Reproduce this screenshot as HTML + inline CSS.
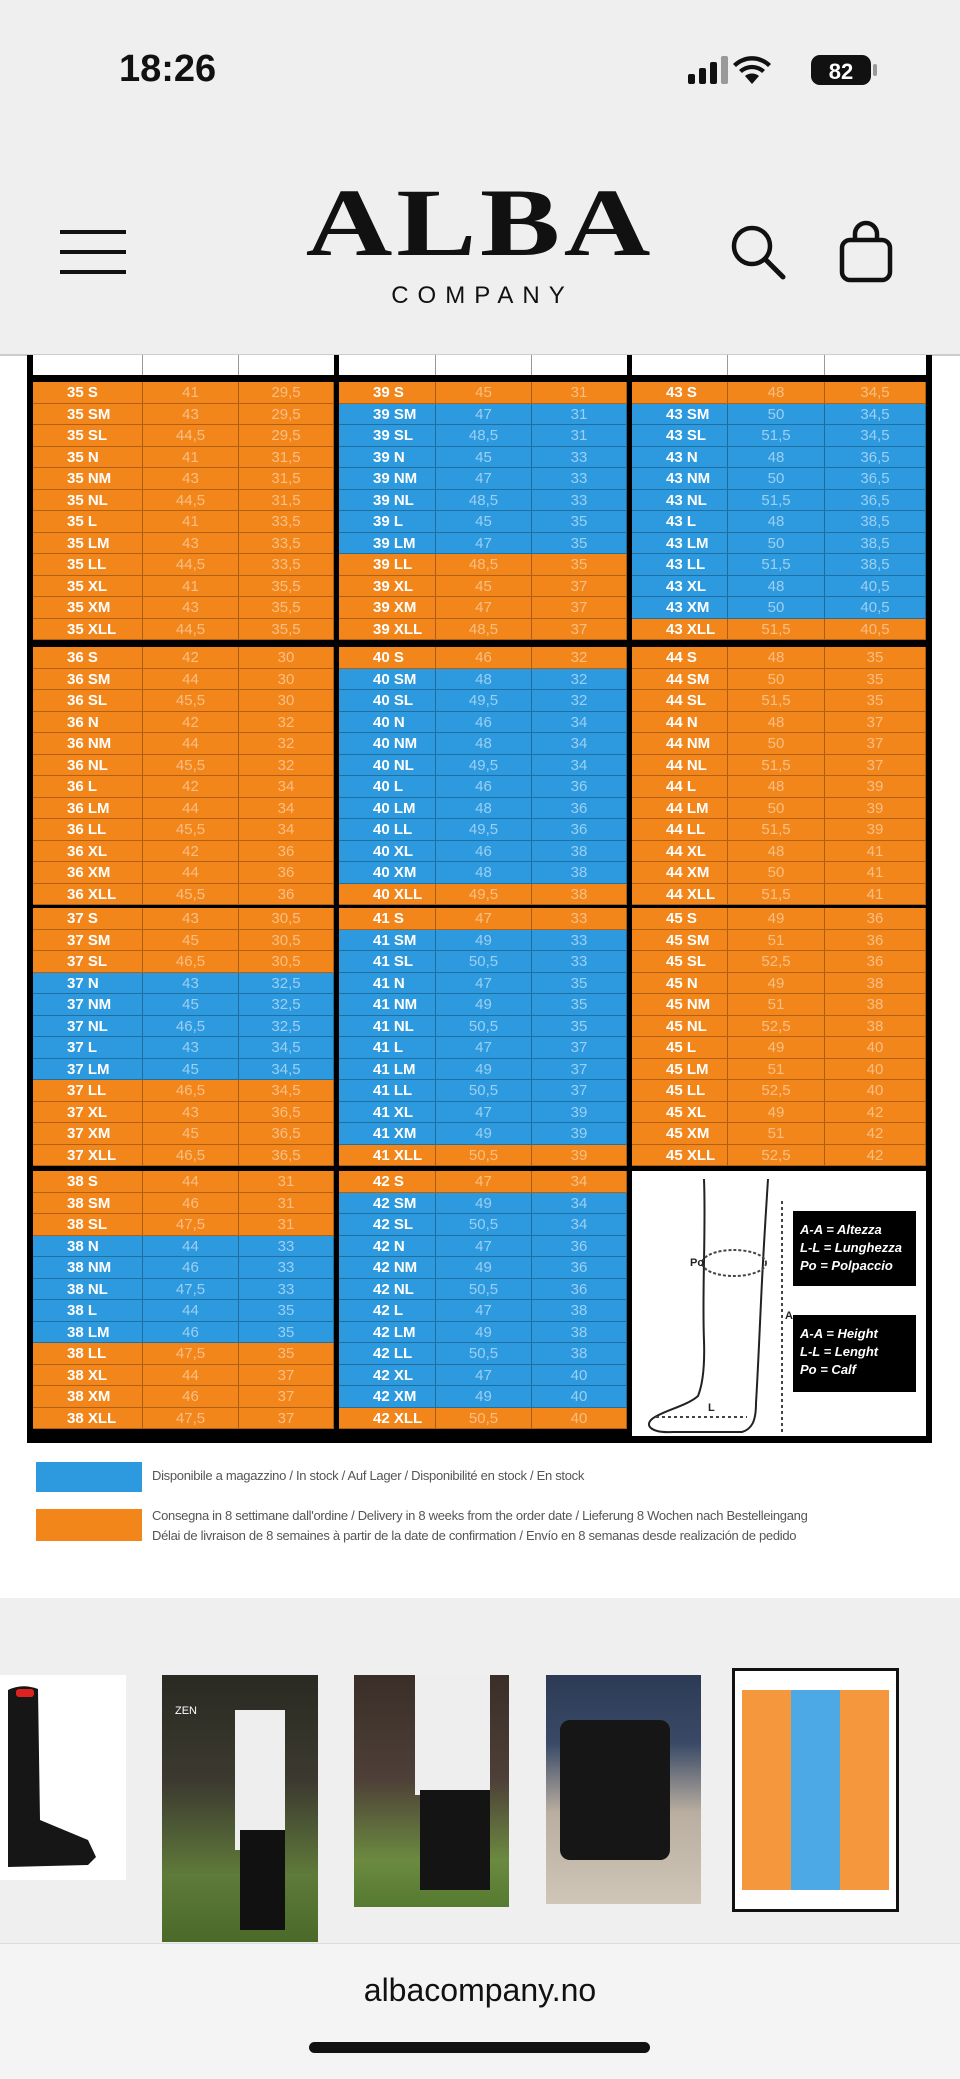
<!DOCTYPE html>
<html><head><meta charset="utf-8"><style>
*{margin:0;padding:0;box-sizing:border-box}
body{width:960px;height:2079px;background:#efefef;position:relative;overflow:hidden;font-family:"Liberation Sans",sans-serif}
.abs{position:absolute}
.tbl{position:absolute;background:#000}
.blk{position:absolute;display:flex;flex-direction:column}
.r{display:flex;height:21.5px;border-bottom:1px solid rgba(0,0,0,.28)}
.r div{border-right:1px solid rgba(0,0,0,.3);font-family:"Liberation Sans Narrow","Liberation Sans",sans-serif;font-size:15px;line-height:21px;text-align:center}
.r div:first-child{text-align:left;padding-left:34px;color:#fff;font-weight:bold}
.o{background:#f3861b}.o div{color:#f8bf84}
.b{background:#2d9ae0}.b div{color:#9ccff1}
.o div:first-child,.b div:first-child{color:#fff}
.lg{font-family:"Liberation Sans Narrow","Liberation Sans",sans-serif;font-size:13px;color:#555;letter-spacing:-.3px}
</style></head><body>
<!-- status bar -->
<div class="abs" style="left:119px;top:48px;font-size:38px;font-weight:bold;color:#111">18:26</div>
<svg class="abs" style="left:686px;top:54px" width="200" height="34">
<rect x="2" y="20" width="7" height="10" rx="2" fill="#111"/><rect x="13" y="14" width="7" height="16" rx="2" fill="#111"/><rect x="24" y="8" width="7" height="22" rx="2" fill="#111"/><rect x="35" y="2" width="7" height="28" rx="2" fill="#999"/>
<path d="M66 30 L59 22 A11 11 0 0 1 73 22Z M53 16 A19 19 0 0 1 79 16 L76 19 A15 15 0 0 0 56 19Z M47 10 A27 27 0 0 1 85 10 L82 13 A23 23 0 0 0 50 13Z" fill="#111"/>
<rect x="125" y="1" width="60" height="30" rx="9" fill="#111"/><rect x="187" y="10" width="4" height="12" rx="2" fill="#999"/>
<text x="155" y="25" font-size="22" font-weight="bold" fill="#fff" text-anchor="middle" font-family="Liberation Sans">82</text></svg>
<!-- header -->
<div class="abs" style="left:60px;top:230px;width:66px;height:4px;background:#111"></div>
<div class="abs" style="left:60px;top:250px;width:66px;height:4px;background:#111"></div>
<div class="abs" style="left:60px;top:270px;width:66px;height:4px;background:#111"></div>
<div class="abs" style="left:280px;top:183px;width:400px;text-align:center;font-family:'Liberation Serif',serif;font-weight:bold;font-size:96px;line-height:80px;letter-spacing:3px;color:#111;transform:scaleX(1.25)">ALBA</div>
<div class="abs" style="left:355px;top:282px;width:255px;text-align:center;font-size:24px;letter-spacing:9px;color:#111">COMPANY</div>
<svg class="abs" style="left:728px;top:220px" width="170" height="64">
<circle cx="24" cy="26" r="18" fill="none" stroke="#111" stroke-width="4.5"/><line x1="37" y1="39" x2="55" y2="57" stroke="#111" stroke-width="5" stroke-linecap="round"/>
<rect x="114" y="20" width="48" height="40" rx="8" fill="none" stroke="#111" stroke-width="4.5"/><path d="M127 22 V14 A11 11 0 0 1 149 14 V22" fill="none" stroke="#111" stroke-width="4.5"/></svg>
<!-- white area -->
<div class="abs" style="left:0;top:355px;width:960px;height:1243px;background:#fff"></div>
<div class="abs" style="left:0;top:354px;width:960px;height:2px;background:#ccc"></div>
<!-- table frame -->
<div class="tbl" style="left:27px;top:355px;width:905px;height:1088px"></div>
<div class="abs" style="left:33px;top:355px;width:893px;height:20px;display:flex">
<div style="width:110px;background:#fff;border-right:1px solid #999"></div><div style="width:96px;background:#fff;border-right:1px solid #999"></div><div style="width:95px;background:#fff"></div><div style="width:5px"></div>
<div style="width:97px;background:#fff;border-right:1px solid #999"></div><div style="width:96px;background:#fff;border-right:1px solid #999"></div><div style="width:95px;background:#fff"></div><div style="width:5px"></div>
<div style="width:96px;background:#fff;border-right:1px solid #999"></div><div style="width:97px;background:#fff;border-right:1px solid #999"></div><div style="width:101px;background:#fff"></div></div>

<!-- COLUMN 1 -->
<div class="blk" style="left:33px;top:382px;width:301px">
<div class="r o"><div style="width:110px">35 S</div><div style="width:96px">41</div><div style="width:95px">29,5</div></div>
<div class="r o"><div style="width:110px">35 SM</div><div style="width:96px">43</div><div style="width:95px">29,5</div></div>
<div class="r o"><div style="width:110px">35 SL</div><div style="width:96px">44,5</div><div style="width:95px">29,5</div></div>
<div class="r o"><div style="width:110px">35 N</div><div style="width:96px">41</div><div style="width:95px">31,5</div></div>
<div class="r o"><div style="width:110px">35 NM</div><div style="width:96px">43</div><div style="width:95px">31,5</div></div>
<div class="r o"><div style="width:110px">35 NL</div><div style="width:96px">44,5</div><div style="width:95px">31,5</div></div>
<div class="r o"><div style="width:110px">35 L</div><div style="width:96px">41</div><div style="width:95px">33,5</div></div>
<div class="r o"><div style="width:110px">35 LM</div><div style="width:96px">43</div><div style="width:95px">33,5</div></div>
<div class="r o"><div style="width:110px">35 LL</div><div style="width:96px">44,5</div><div style="width:95px">33,5</div></div>
<div class="r o"><div style="width:110px">35 XL</div><div style="width:96px">41</div><div style="width:95px">35,5</div></div>
<div class="r o"><div style="width:110px">35 XM</div><div style="width:96px">43</div><div style="width:95px">35,5</div></div>
<div class="r o"><div style="width:110px">35 XLL</div><div style="width:96px">44,5</div><div style="width:95px">35,5</div></div>
</div>
<div class="blk" style="left:33px;top:647px;width:301px">
<div class="r o"><div style="width:110px">36 S</div><div style="width:96px">42</div><div style="width:95px">30</div></div>
<div class="r o"><div style="width:110px">36 SM</div><div style="width:96px">44</div><div style="width:95px">30</div></div>
<div class="r o"><div style="width:110px">36 SL</div><div style="width:96px">45,5</div><div style="width:95px">30</div></div>
<div class="r o"><div style="width:110px">36 N</div><div style="width:96px">42</div><div style="width:95px">32</div></div>
<div class="r o"><div style="width:110px">36 NM</div><div style="width:96px">44</div><div style="width:95px">32</div></div>
<div class="r o"><div style="width:110px">36 NL</div><div style="width:96px">45,5</div><div style="width:95px">32</div></div>
<div class="r o"><div style="width:110px">36 L</div><div style="width:96px">42</div><div style="width:95px">34</div></div>
<div class="r o"><div style="width:110px">36 LM</div><div style="width:96px">44</div><div style="width:95px">34</div></div>
<div class="r o"><div style="width:110px">36 LL</div><div style="width:96px">45,5</div><div style="width:95px">34</div></div>
<div class="r o"><div style="width:110px">36 XL</div><div style="width:96px">42</div><div style="width:95px">36</div></div>
<div class="r o"><div style="width:110px">36 XM</div><div style="width:96px">44</div><div style="width:95px">36</div></div>
<div class="r o"><div style="width:110px">36 XLL</div><div style="width:96px">45,5</div><div style="width:95px">36</div></div>
</div>
<div class="blk" style="left:33px;top:908px;width:301px">
<div class="r o"><div style="width:110px">37 S</div><div style="width:96px">43</div><div style="width:95px">30,5</div></div>
<div class="r o"><div style="width:110px">37 SM</div><div style="width:96px">45</div><div style="width:95px">30,5</div></div>
<div class="r o"><div style="width:110px">37 SL</div><div style="width:96px">46,5</div><div style="width:95px">30,5</div></div>
<div class="r b"><div style="width:110px">37 N</div><div style="width:96px">43</div><div style="width:95px">32,5</div></div>
<div class="r b"><div style="width:110px">37 NM</div><div style="width:96px">45</div><div style="width:95px">32,5</div></div>
<div class="r b"><div style="width:110px">37 NL</div><div style="width:96px">46,5</div><div style="width:95px">32,5</div></div>
<div class="r b"><div style="width:110px">37 L</div><div style="width:96px">43</div><div style="width:95px">34,5</div></div>
<div class="r b"><div style="width:110px">37 LM</div><div style="width:96px">45</div><div style="width:95px">34,5</div></div>
<div class="r o"><div style="width:110px">37 LL</div><div style="width:96px">46,5</div><div style="width:95px">34,5</div></div>
<div class="r o"><div style="width:110px">37 XL</div><div style="width:96px">43</div><div style="width:95px">36,5</div></div>
<div class="r o"><div style="width:110px">37 XM</div><div style="width:96px">45</div><div style="width:95px">36,5</div></div>
<div class="r o"><div style="width:110px">37 XLL</div><div style="width:96px">46,5</div><div style="width:95px">36,5</div></div>
</div>
<div class="blk" style="left:33px;top:1171px;width:301px">
<div class="r o"><div style="width:110px">38 S</div><div style="width:96px">44</div><div style="width:95px">31</div></div>
<div class="r o"><div style="width:110px">38 SM</div><div style="width:96px">46</div><div style="width:95px">31</div></div>
<div class="r o"><div style="width:110px">38 SL</div><div style="width:96px">47,5</div><div style="width:95px">31</div></div>
<div class="r b"><div style="width:110px">38 N</div><div style="width:96px">44</div><div style="width:95px">33</div></div>
<div class="r b"><div style="width:110px">38 NM</div><div style="width:96px">46</div><div style="width:95px">33</div></div>
<div class="r b"><div style="width:110px">38 NL</div><div style="width:96px">47,5</div><div style="width:95px">33</div></div>
<div class="r b"><div style="width:110px">38 L</div><div style="width:96px">44</div><div style="width:95px">35</div></div>
<div class="r b"><div style="width:110px">38 LM</div><div style="width:96px">46</div><div style="width:95px">35</div></div>
<div class="r o"><div style="width:110px">38 LL</div><div style="width:96px">47,5</div><div style="width:95px">35</div></div>
<div class="r o"><div style="width:110px">38 XL</div><div style="width:96px">44</div><div style="width:95px">37</div></div>
<div class="r o"><div style="width:110px">38 XM</div><div style="width:96px">46</div><div style="width:95px">37</div></div>
<div class="r o"><div style="width:110px">38 XLL</div><div style="width:96px">47,5</div><div style="width:95px">37</div></div>
</div>

<!-- COLUMN 2 -->
<div class="blk" style="left:339px;top:382px;width:288px">
<div class="r o"><div style="width:97px">39 S</div><div style="width:96px">45</div><div style="width:95px">31</div></div>
<div class="r b"><div style="width:97px">39 SM</div><div style="width:96px">47</div><div style="width:95px">31</div></div>
<div class="r b"><div style="width:97px">39 SL</div><div style="width:96px">48,5</div><div style="width:95px">31</div></div>
<div class="r b"><div style="width:97px">39 N</div><div style="width:96px">45</div><div style="width:95px">33</div></div>
<div class="r b"><div style="width:97px">39 NM</div><div style="width:96px">47</div><div style="width:95px">33</div></div>
<div class="r b"><div style="width:97px">39 NL</div><div style="width:96px">48,5</div><div style="width:95px">33</div></div>
<div class="r b"><div style="width:97px">39 L</div><div style="width:96px">45</div><div style="width:95px">35</div></div>
<div class="r b"><div style="width:97px">39 LM</div><div style="width:96px">47</div><div style="width:95px">35</div></div>
<div class="r o"><div style="width:97px">39 LL</div><div style="width:96px">48,5</div><div style="width:95px">35</div></div>
<div class="r o"><div style="width:97px">39 XL</div><div style="width:96px">45</div><div style="width:95px">37</div></div>
<div class="r o"><div style="width:97px">39 XM</div><div style="width:96px">47</div><div style="width:95px">37</div></div>
<div class="r o"><div style="width:97px">39 XLL</div><div style="width:96px">48,5</div><div style="width:95px">37</div></div>
</div>
<div class="blk" style="left:339px;top:647px;width:288px">
<div class="r o"><div style="width:97px">40 S</div><div style="width:96px">46</div><div style="width:95px">32</div></div>
<div class="r b"><div style="width:97px">40 SM</div><div style="width:96px">48</div><div style="width:95px">32</div></div>
<div class="r b"><div style="width:97px">40 SL</div><div style="width:96px">49,5</div><div style="width:95px">32</div></div>
<div class="r b"><div style="width:97px">40 N</div><div style="width:96px">46</div><div style="width:95px">34</div></div>
<div class="r b"><div style="width:97px">40 NM</div><div style="width:96px">48</div><div style="width:95px">34</div></div>
<div class="r b"><div style="width:97px">40 NL</div><div style="width:96px">49,5</div><div style="width:95px">34</div></div>
<div class="r b"><div style="width:97px">40 L</div><div style="width:96px">46</div><div style="width:95px">36</div></div>
<div class="r b"><div style="width:97px">40 LM</div><div style="width:96px">48</div><div style="width:95px">36</div></div>
<div class="r b"><div style="width:97px">40 LL</div><div style="width:96px">49,5</div><div style="width:95px">36</div></div>
<div class="r b"><div style="width:97px">40 XL</div><div style="width:96px">46</div><div style="width:95px">38</div></div>
<div class="r b"><div style="width:97px">40 XM</div><div style="width:96px">48</div><div style="width:95px">38</div></div>
<div class="r o"><div style="width:97px">40 XLL</div><div style="width:96px">49,5</div><div style="width:95px">38</div></div>
</div>
<div class="blk" style="left:339px;top:908px;width:288px">
<div class="r o"><div style="width:97px">41 S</div><div style="width:96px">47</div><div style="width:95px">33</div></div>
<div class="r b"><div style="width:97px">41 SM</div><div style="width:96px">49</div><div style="width:95px">33</div></div>
<div class="r b"><div style="width:97px">41 SL</div><div style="width:96px">50,5</div><div style="width:95px">33</div></div>
<div class="r b"><div style="width:97px">41 N</div><div style="width:96px">47</div><div style="width:95px">35</div></div>
<div class="r b"><div style="width:97px">41 NM</div><div style="width:96px">49</div><div style="width:95px">35</div></div>
<div class="r b"><div style="width:97px">41 NL</div><div style="width:96px">50,5</div><div style="width:95px">35</div></div>
<div class="r b"><div style="width:97px">41 L</div><div style="width:96px">47</div><div style="width:95px">37</div></div>
<div class="r b"><div style="width:97px">41 LM</div><div style="width:96px">49</div><div style="width:95px">37</div></div>
<div class="r b"><div style="width:97px">41 LL</div><div style="width:96px">50,5</div><div style="width:95px">37</div></div>
<div class="r b"><div style="width:97px">41 XL</div><div style="width:96px">47</div><div style="width:95px">39</div></div>
<div class="r b"><div style="width:97px">41 XM</div><div style="width:96px">49</div><div style="width:95px">39</div></div>
<div class="r o"><div style="width:97px">41 XLL</div><div style="width:96px">50,5</div><div style="width:95px">39</div></div>
</div>
<div class="blk" style="left:339px;top:1171px;width:288px">
<div class="r o"><div style="width:97px">42 S</div><div style="width:96px">47</div><div style="width:95px">34</div></div>
<div class="r b"><div style="width:97px">42 SM</div><div style="width:96px">49</div><div style="width:95px">34</div></div>
<div class="r b"><div style="width:97px">42 SL</div><div style="width:96px">50,5</div><div style="width:95px">34</div></div>
<div class="r b"><div style="width:97px">42 N</div><div style="width:96px">47</div><div style="width:95px">36</div></div>
<div class="r b"><div style="width:97px">42 NM</div><div style="width:96px">49</div><div style="width:95px">36</div></div>
<div class="r b"><div style="width:97px">42 NL</div><div style="width:96px">50,5</div><div style="width:95px">36</div></div>
<div class="r b"><div style="width:97px">42 L</div><div style="width:96px">47</div><div style="width:95px">38</div></div>
<div class="r b"><div style="width:97px">42 LM</div><div style="width:96px">49</div><div style="width:95px">38</div></div>
<div class="r b"><div style="width:97px">42 LL</div><div style="width:96px">50,5</div><div style="width:95px">38</div></div>
<div class="r b"><div style="width:97px">42 XL</div><div style="width:96px">47</div><div style="width:95px">40</div></div>
<div class="r b"><div style="width:97px">42 XM</div><div style="width:96px">49</div><div style="width:95px">40</div></div>
<div class="r o"><div style="width:97px">42 XLL</div><div style="width:96px">50,5</div><div style="width:95px">40</div></div>
</div>

<!-- COLUMN 3 -->
<div class="blk" style="left:632px;top:382px;width:294px">
<div class="r o"><div style="width:96px">43 S</div><div style="width:97px">48</div><div style="width:101px">34,5</div></div>
<div class="r b"><div style="width:96px">43 SM</div><div style="width:97px">50</div><div style="width:101px">34,5</div></div>
<div class="r b"><div style="width:96px">43 SL</div><div style="width:97px">51,5</div><div style="width:101px">34,5</div></div>
<div class="r b"><div style="width:96px">43 N</div><div style="width:97px">48</div><div style="width:101px">36,5</div></div>
<div class="r b"><div style="width:96px">43 NM</div><div style="width:97px">50</div><div style="width:101px">36,5</div></div>
<div class="r b"><div style="width:96px">43 NL</div><div style="width:97px">51,5</div><div style="width:101px">36,5</div></div>
<div class="r b"><div style="width:96px">43 L</div><div style="width:97px">48</div><div style="width:101px">38,5</div></div>
<div class="r b"><div style="width:96px">43 LM</div><div style="width:97px">50</div><div style="width:101px">38,5</div></div>
<div class="r b"><div style="width:96px">43 LL</div><div style="width:97px">51,5</div><div style="width:101px">38,5</div></div>
<div class="r b"><div style="width:96px">43 XL</div><div style="width:97px">48</div><div style="width:101px">40,5</div></div>
<div class="r b"><div style="width:96px">43 XM</div><div style="width:97px">50</div><div style="width:101px">40,5</div></div>
<div class="r o"><div style="width:96px">43 XLL</div><div style="width:97px">51,5</div><div style="width:101px">40,5</div></div>
</div>
<div class="blk" style="left:632px;top:647px;width:294px">
<div class="r o"><div style="width:96px">44 S</div><div style="width:97px">48</div><div style="width:101px">35</div></div>
<div class="r o"><div style="width:96px">44 SM</div><div style="width:97px">50</div><div style="width:101px">35</div></div>
<div class="r o"><div style="width:96px">44 SL</div><div style="width:97px">51,5</div><div style="width:101px">35</div></div>
<div class="r o"><div style="width:96px">44 N</div><div style="width:97px">48</div><div style="width:101px">37</div></div>
<div class="r o"><div style="width:96px">44 NM</div><div style="width:97px">50</div><div style="width:101px">37</div></div>
<div class="r o"><div style="width:96px">44 NL</div><div style="width:97px">51,5</div><div style="width:101px">37</div></div>
<div class="r o"><div style="width:96px">44 L</div><div style="width:97px">48</div><div style="width:101px">39</div></div>
<div class="r o"><div style="width:96px">44 LM</div><div style="width:97px">50</div><div style="width:101px">39</div></div>
<div class="r o"><div style="width:96px">44 LL</div><div style="width:97px">51,5</div><div style="width:101px">39</div></div>
<div class="r o"><div style="width:96px">44 XL</div><div style="width:97px">48</div><div style="width:101px">41</div></div>
<div class="r o"><div style="width:96px">44 XM</div><div style="width:97px">50</div><div style="width:101px">41</div></div>
<div class="r o"><div style="width:96px">44 XLL</div><div style="width:97px">51,5</div><div style="width:101px">41</div></div>
</div>
<div class="blk" style="left:632px;top:908px;width:294px">
<div class="r o"><div style="width:96px">45 S</div><div style="width:97px">49</div><div style="width:101px">36</div></div>
<div class="r o"><div style="width:96px">45 SM</div><div style="width:97px">51</div><div style="width:101px">36</div></div>
<div class="r o"><div style="width:96px">45 SL</div><div style="width:97px">52,5</div><div style="width:101px">36</div></div>
<div class="r o"><div style="width:96px">45 N</div><div style="width:97px">49</div><div style="width:101px">38</div></div>
<div class="r o"><div style="width:96px">45 NM</div><div style="width:97px">51</div><div style="width:101px">38</div></div>
<div class="r o"><div style="width:96px">45 NL</div><div style="width:97px">52,5</div><div style="width:101px">38</div></div>
<div class="r o"><div style="width:96px">45 L</div><div style="width:97px">49</div><div style="width:101px">40</div></div>
<div class="r o"><div style="width:96px">45 LM</div><div style="width:97px">51</div><div style="width:101px">40</div></div>
<div class="r o"><div style="width:96px">45 LL</div><div style="width:97px">52,5</div><div style="width:101px">40</div></div>
<div class="r o"><div style="width:96px">45 XL</div><div style="width:97px">49</div><div style="width:101px">42</div></div>
<div class="r o"><div style="width:96px">45 XM</div><div style="width:97px">51</div><div style="width:101px">42</div></div>
<div class="r o"><div style="width:96px">45 XLL</div><div style="width:97px">52,5</div><div style="width:101px">42</div></div>
</div>
<!-- diagram -->
<svg class="abs" style="left:632px;top:1171px" width="294" height="265">
<rect width="294" height="265" fill="#fff"/>
<path d="M72 8 C74 60 70 120 72 170 C73 200 70 215 66 225 C55 235 30 240 20 248 C12 255 20 262 40 261 L110 261 C120 258 124 250 124 232 C126 200 128 150 130 110 C132 70 134 40 136 8" fill="none" stroke="#222" stroke-width="2"/>
<ellipse cx="102" cy="92" rx="32" ry="13" fill="none" stroke="#444" stroke-width="2" stroke-dasharray="3 2"/>
<line x1="150" y1="30" x2="150" y2="262" stroke="#444" stroke-width="2" stroke-dasharray="3 3"/>
<line x1="24" y1="246" x2="115" y2="246" stroke="#444" stroke-width="2" stroke-dasharray="3 3"/>
<text x="58" y="95" font-size="11" font-weight="bold" font-family="Liberation Sans Narrow,Liberation Sans,sans-serif" fill="#222">Po</text>
<text x="153" y="148" font-size="11" font-weight="bold" font-family="Liberation Sans" fill="#222">A</text>
<text x="76" y="240" font-size="11" font-weight="bold" font-family="Liberation Sans" fill="#222">L</text>
<rect x="161" y="40" width="123" height="75" fill="#000"/>
<rect x="161" y="144" width="123" height="77" fill="#000"/>
<g font-family="Liberation Sans Narrow,Liberation Sans,sans-serif" font-size="13" font-style="italic" font-weight="bold" fill="#fff">
<text x="168" y="63">A-A = Altezza</text><text x="168" y="81">L-L = Lunghezza</text><text x="168" y="99">Po = Polpaccio</text>
<text x="168" y="167">A-A = Height</text><text x="168" y="185">L-L = Lenght</text><text x="168" y="203">Po = Calf</text></g>
</svg>
<!-- legend -->
<div class="abs" style="left:36px;top:1462px;width:106px;height:30px;background:#2d9ae0"></div>
<div class="abs lg" style="left:152px;top:1468px">Disponibile a magazzino / In stock / Auf Lager / Disponibilité en stock / En stock</div>
<div class="abs" style="left:36px;top:1509px;width:106px;height:32px;background:#f3861b"></div>
<div class="abs lg" style="left:152px;top:1506px;line-height:20px">Consegna in 8 settimane dall'ordine / Delivery in 8 weeks from the order date / Lieferung 8 Wochen nach Bestelleingang<br>Délai de livraison de 8 semaines à partir de la date de confirmation / Envío en 8 semanas desde realización de pedido</div>
<!-- thumbnails -->
<div class="abs" style="left:0;top:1675px;width:126px;height:205px;background:#fff"></div>
<svg class="abs" style="left:0;top:1675px" width="126" height="205"><path d="M8 15 Q22 8 38 14 L40 145 L88 165 L96 182 L88 190 L8 192Z" fill="#161616"/><rect x="16" y="14" width="18" height="8" rx="3" fill="#d22"/></svg>
<div class="abs" style="left:162px;top:1675px;width:156px;height:267px;background:linear-gradient(#2a2a22 0,#3c3a30 40%,#5f7a3a 75%,#4a6a2a 100%)"></div>
<div class="abs" style="left:235px;top:1710px;width:50px;height:140px;background:#eee"></div>
<div class="abs" style="left:240px;top:1830px;width:45px;height:100px;background:#111"></div>
<div class="abs" style="left:175px;top:1705px;color:#fff;font-size:11px">ZEN</div>
<div class="abs" style="left:354px;top:1675px;width:155px;height:232px;background:linear-gradient(#3a2e28 0,#4e4038 45%,#6b8a40 80%,#557a30 100%)"></div>
<div class="abs" style="left:415px;top:1675px;width:75px;height:120px;background:#eee"></div>
<div class="abs" style="left:420px;top:1790px;width:70px;height:100px;background:#141414"></div>
<div class="abs" style="left:546px;top:1675px;width:155px;height:229px;background:linear-gradient(#2c3a55 0,#3a4a66 30%,#b9aea0 60%,#cfc6b8 100%)"></div>
<div class="abs" style="left:560px;top:1720px;width:110px;height:140px;background:#161616;border-radius:10px"></div>
<div class="abs" style="left:732px;top:1668px;width:167px;height:244px;background:#fff;border:3px solid #111"></div>
<div class="abs" style="left:742px;top:1690px;width:147px;height:200px;background:repeating-linear-gradient(90deg,#f3861b 0 49px,#2d9ae0 49px 98px,#f3861b 98px 147px);opacity:.85"></div>
<!-- bottom bar -->
<div class="abs" style="left:0;top:1943px;width:960px;height:136px;background:#f4f4f4;border-top:1px solid #ddd"></div>
<div class="abs" style="left:0;top:1972px;width:960px;text-align:center;font-size:32px;color:#111">albacompany.no</div>
<div class="abs" style="left:309px;top:2042px;width:341px;height:11px;border-radius:6px;background:#111"></div>
</body></html>
